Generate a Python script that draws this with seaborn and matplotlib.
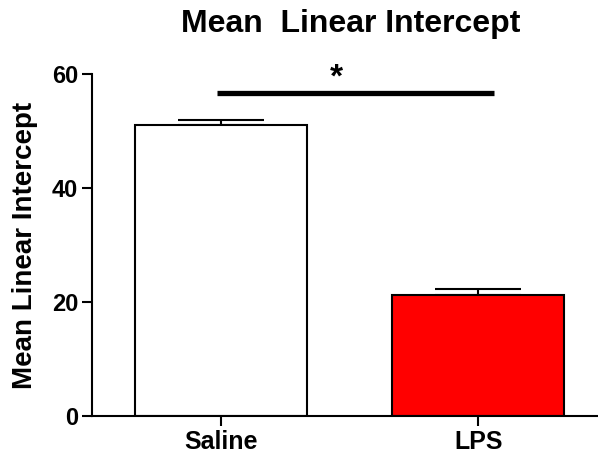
import matplotlib
matplotlib.use("Agg")
import matplotlib.pyplot as plt
import seaborn as sns
import pandas as pd
import numpy as np

groups = ["Saline", "LPS"]
means = [51.1, 21.2]
sems = [0.9, 1.0]
colors = ["#FFFFFF", "#FF0000"]
yticks = [0, 20, 40, 60]
sig_label = "*"
sig_y = 56.7

sns.set_theme(style="ticks")
plt.rcParams['font.family'] = ['Liberation Sans', 'DejaVu Sans']
plt.rcParams['font.weight'] = 'bold'
plt.rcParams['text.color'] = 'black'
plt.rcParams['axes.labelcolor'] = 'black'

df = pd.DataFrame({"group": groups, "mean": means})

fig = plt.figure(figsize=(5.98, 4.57), dpi=100)
ax = fig.add_axes([92/598, 41/457, 1 - 92/598, (416-74)/457])

sns.barplot(data=df, x="group", y="mean", hue="group", palette=colors,
            order=groups, hue_order=groups, legend=False, errorbar=None,
            saturation=1, width=0.668, edgecolor="black", linewidth=1.5, ax=ax, zorder=2)

x = np.arange(len(groups))
ax.errorbar(x, means, yerr=[np.zeros(len(sems)), sems], fmt="none",
            ecolor="black", elinewidth=1.5, capsize=31, capthick=1.5, zorder=1)

ax.set_xlim(-0.5, 1.465)
ax.set_ylim(0, 60)
ax.set_yticks(yticks)
ax.set_yticklabels([str(t) for t in yticks], fontsize=17, fontweight="bold", color="black")
ax.set_xticks(x)
ax.set_xticklabels(groups, fontsize=18, fontweight="bold", color="black")
ax.set_xlabel("")
ax.set_ylabel("Mean Linear Intercept", fontsize=20, fontweight="bold", color="black", labelpad=10)
ax.tick_params(axis="both", direction="out", length=7, width=1.5, color="black", labelcolor="black", pad=3)
for s in ["top", "right"]:
    ax.spines[s].set_visible(False)
for s in ["left", "bottom"]:
    ax.spines[s].set_linewidth(1.5)
    ax.spines[s].set_color("black")

# significance bar
ax.plot([-0.015, 1.06], [sig_y, sig_y], color="black", lw=3.8, solid_capstyle="butt", clip_on=False)
ax.text(0.45, 59.3, sig_label, ha="center", va="center", fontsize=24, fontweight="bold", color="black", clip_on=False)

fig.text(0.587, 0.948, "Mean  Linear Intercept", ha="center", va="center", fontsize=23, fontweight="bold", color="black")

fig.savefig("out.png", dpi=100)
